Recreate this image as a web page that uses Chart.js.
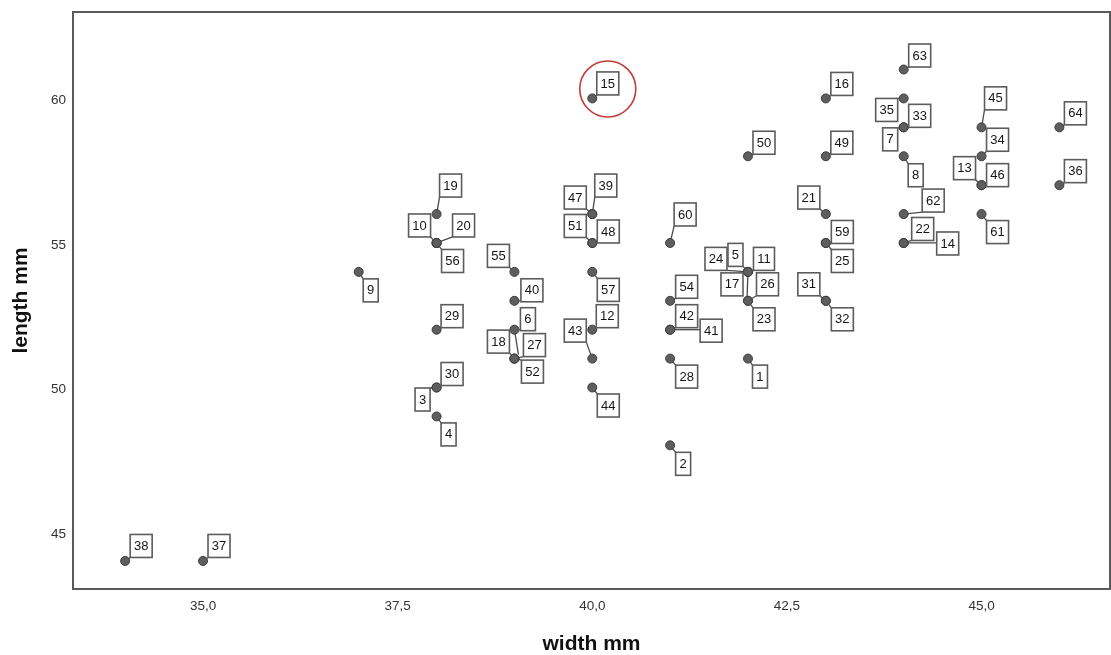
<!DOCTYPE html>
<html>
<head>
<meta charset="utf-8">
<script src="https://cdn.jsdelivr.net/npm/chart.js@4.4.1/dist/chart.umd.min.js"></script>
<style>
  html, body { margin: 0; padding: 0; background: #ffffff; }
  #wrap { width: 1111px; height: 655px; }
</style>
</head>
<body>
<div id="wrap"><canvas id="c" width="1111" height="655"></canvas></div>
<script>
// Case numbers and measurements (mm)
const caseIds = [1, 2, 3, 4, 5, 6, 7, 8, 9, 10, 11, 12, 13, 14, 15, 16, 17, 18, 19, 20,
  21, 22, 23, 24, 25, 26, 27, 28, 29, 30, 31, 32, 33, 34, 35, 36, 37, 38, 39, 40,
  41, 42, 43, 44, 45, 46, 47, 48, 49, 50, 51, 52, 54, 55, 56, 57, 59, 60, 61, 62, 63, 64];
const widthMm = [42, 41, 38, 38, 42, 39, 44, 44, 37, 38, 42, 40, 45, 44, 40, 43, 42, 39, 38, 38,
  43, 44, 42, 42, 43, 42, 39, 41, 38, 38, 43, 43, 44, 45, 44, 46, 35, 34, 40, 39,
  41, 41, 40, 40, 45, 45, 40, 40, 43, 42, 40, 39, 41, 39, 38, 40, 43, 41, 45, 44, 44, 46];
const lengthMm = [51, 48, 50, 49, 54, 52, 59, 58, 54, 55, 54, 52, 57, 55, 60, 60, 54, 51, 56, 55,
  56, 55, 53, 54, 55, 53, 51, 51, 52, 50, 53, 53, 59, 58, 60, 57, 44, 44, 56, 53,
  52, 52, 51, 50, 59, 57, 56, 55, 58, 58, 55, 51, 53, 54, 55, 54, 55, 55, 56, 56, 61, 59];

// Axis ticks
const xTickValues = [35, 37.5, 40, 42.5, 45];
const yTickValues = [45, 50, 55, 60];

// Label box placement: centre offset from the marker, in pixels
const labelPlacement = {
  1: [12, 18], 2: [13, 18.5], 3: [-14, 12], 4: [12, 18], 5: [-12.5, -17], 6: [13.5, -10.5],
  7: [-13.5, 12], 8: [12, 19], 9: [12, 18.5], 10: [-17, -17.5], 11: [16, -13], 12: [15, -13.5],
  13: [-17, -17], 14: [44, 0.5], 15: [15.5, -15], 16: [16, -14.5], 17: [-16, 12.5], 18: [-16, -17],
  19: [14, -28.5], 20: [27, -17.5], 21: [-17, -16.5], 22: [19, -14], 23: [16, 18.5], 24: [-32, -13],
  25: [16.5, 18], 26: [19.5, -16.5], 27: [20, -13.5], 28: [16.5, 18], 29: [15.5, -13.5], 30: [15.5, -13.5],
  31: [-17, -16.5], 32: [16.5, 18.5], 33: [16, -11.5], 34: [16, -16.5], 35: [-17, 11.5], 36: [16, -14],
  37: [16, -15], 38: [16, -15], 39: [13.5, -28.5], 40: [17.5, -10.5], 41: [41, 1], 42: [16.5, -13.5],
  43: [-17, -28], 44: [16, 18], 45: [14, -29], 46: [16, -10], 47: [-17, -16.5], 48: [16, -11.5],
  49: [16, -13.5], 50: [16, -13.5], 51: [-17, -17], 52: [18, 13], 54: [16.5, -14], 55: [-16, -16],
  56: [16, 18], 57: [16, 18], 59: [16.5, -11], 60: [15, -28.5], 61: [16, 18], 62: [29.5, -13.5],
  63: [16, -14], 64: [16, -14]
};
// Extra leader strokes between stacked markers: [fromId, toId, endDx, endDy]
const stackedLeaders = [[6, 18, 4, -4], [11, 23, -1, -1]];
// Highlighted case
const highlightId = 15;

const FONT = '"Liberation Sans", Arial, Helvetica, sans-serif';

const points = caseIds.map((id, i) => ({ x: widthMm[i], y: lengthMm[i], id }));

function markerPos(chart, id) {
  const idx = caseIds.indexOf(id);
  const el = chart.getDatasetMeta(0).data[idx];
  return { x: el.x, y: el.y };
}

function boxFor(ctx, chart, id) {
  const p = markerPos(chart, id);
  const off = labelPlacement[id];
  const text = String(id);
  const w = Math.round(ctx.measureText(text).width + 8);
  const h = 23;
  const cx = p.x + off[0], cy = p.y + off[1];
  return { p, text, x: cx - w / 2, y: cy - h / 2, w, h, cx, cy };
}

const caseLabels = {
  id: 'caseLabels',
  beforeDatasetsDraw(chart) {
    const ctx = chart.ctx;
    ctx.save();
    ctx.font = '13px ' + FONT;
    ctx.strokeStyle = '#4a4a4a';
    ctx.lineWidth = 1.3;
    caseIds.forEach(id => {
      const b = boxFor(ctx, chart, id);
      const nx = Math.max(b.x, Math.min(b.p.x, b.x + b.w));
      const ny = Math.max(b.y, Math.min(b.p.y, b.y + b.h));
      ctx.beginPath();
      ctx.moveTo(b.p.x, b.p.y);
      ctx.lineTo(nx, ny);
      ctx.stroke();
    });
    stackedLeaders.forEach(([a, bId, ex, ey]) => {
      const pa = markerPos(chart, a), pb = markerPos(chart, bId);
      ctx.beginPath();
      ctx.moveTo(pa.x, pa.y);
      ctx.lineTo(pb.x + ex, pb.y + ey);
      ctx.stroke();
    });
    ctx.restore();
  },
  afterDatasetsDraw(chart) {
    const ctx = chart.ctx;
    ctx.save();
    ctx.font = '13px ' + FONT;
    caseIds.forEach(id => {
      const b = boxFor(ctx, chart, id);
      ctx.fillStyle = '#ffffff';
      ctx.fillRect(b.x, b.y, b.w, b.h);
      ctx.strokeStyle = '#5c5c5c';
      ctx.lineWidth = 1.6;
      ctx.strokeRect(b.x, b.y, b.w, b.h);
      ctx.fillStyle = '#151515';
      ctx.textAlign = 'center';
      ctx.textBaseline = 'middle';
      ctx.fillText(b.text, b.cx, b.cy + 0.5);
    });
    // ring around the highlighted case
    const hp = markerPos(chart, highlightId);
    ctx.beginPath();
    ctx.arc(hp.x + 15.5, hp.y - 9.5, 28, 0, Math.PI * 2);
    ctx.strokeStyle = '#c23b3b';
    ctx.lineWidth = 1.6;
    ctx.stroke();
    ctx.restore();
  },
  afterDraw(chart) {
    const { ctx, chartArea: a } = chart;
    ctx.save();
    ctx.strokeStyle = '#5a5a5a';
    ctx.lineWidth = 2;
    ctx.strokeRect(a.left, a.top, a.right - a.left, a.bottom - a.top);
    ctx.restore();
  }
};

new Chart(document.getElementById('c'), {
  type: 'scatter',
  data: {
    datasets: [{
      data: points,
      pointRadius: 4.5,
      pointHoverRadius: 4.5,
      pointBackgroundColor: '#5e5e5e',
      pointBorderColor: '#3c3c3c',
      pointBorderWidth: 1
    }]
  },
  options: {
    responsive: false,
    animation: false,
    devicePixelRatio: 1,
    layout: { autoPadding: false, padding: { top: 12, right: 1, bottom: 0, left: 0 } },
    plugins: { legend: { display: false }, tooltip: { enabled: false } },
    scales: {
      x: {
        type: 'linear',
        min: 33.33,
        max: 46.65,
        grid: { display: false, drawTicks: false },
        border: { display: false },
        afterBuildTicks: s => { s.ticks = xTickValues.map(v => ({ value: v })); },
        afterFit: s => { s.height = 66; s.paddingLeft = 0; s.paddingRight = 0; },
        ticks: {
          padding: 9,
          color: '#333333',
          font: { family: FONT, size: 13.5 },
          callback: v => Number(v).toFixed(1).replace('.', ',')
        },
        title: {
          display: true,
          text: 'width mm',
          color: '#111111',
          font: { family: FONT, size: 21, weight: 'bold', lineHeight: 1 },
          padding: { top: 0, bottom: 0 }
        }
      },
      y: {
        type: 'linear',
        min: 43.03,
        max: 62.99,
        grid: { display: false, drawTicks: false },
        border: { display: false },
        afterBuildTicks: s => { s.ticks = yTickValues.map(v => ({ value: v })); },
        afterFit: s => { s.width = 73; s.paddingTop = 0; s.paddingBottom = 0; },
        ticks: {
          padding: 7,
          labelOffset: 2,
          color: '#333333',
          font: { family: FONT, size: 13.5 },
          callback: v => String(v)
        },
        title: {
          display: true,
          text: 'length mm',
          color: '#111111',
          font: { family: FONT, size: 21, weight: 'bold', lineHeight: 1 },
          padding: { top: 11, bottom: 0 }
        }
      }
    }
  },
  plugins: [caseLabels]
});
</script>
</body>
</html>
